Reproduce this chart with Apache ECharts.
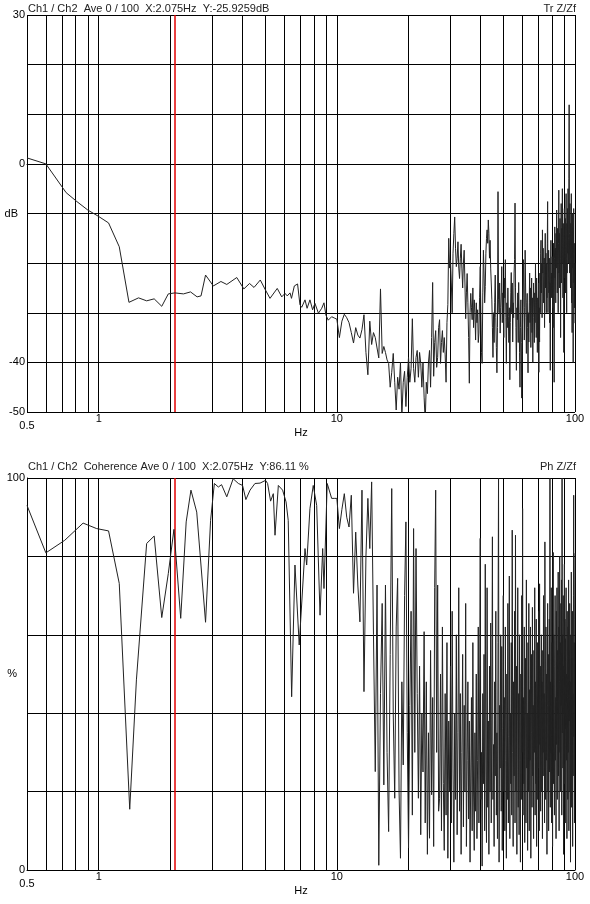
<!DOCTYPE html>
<html>
<head>
<meta charset="utf-8">
<script src="https://cdn.jsdelivr.net/npm/echarts@6/dist/echarts.min.js"></script>
<style>
html, body { margin: 0; padding: 0; background: #fff; }
#myChart { width: 590px; height: 904px; }
</style>
</head>
<body>
<div id="myChart"></div>
<script>
// 频率网格线 (Hz)
const gridHz = [0.6, 0.7, 0.8, 0.9, 1, 2, 3, 4, 5, 6, 7, 8, 9, 10, 20, 30, 40, 50, 60, 70, 80, 90, 100]
const cursorHz = 2.075

// 传递函数 Tr Z/Zf (dB) - 低频部分
const trLowHz = [0.5, 0.6, 0.73, 0.81, 0.9, 1.0, 1.1, 1.22, 1.34, 1.47, 1.59, 1.71, 1.84, 1.96, 2.09, 2.27, 2.43, 2.59, 2.69, 2.81,
    3.03, 3.26, 3.45, 3.8, 4.07, 4.3, 4.49, 4.77, 5.0, 5.24, 5.62, 5.87, 6.06, 6.19, 6.36, 6.45, 6.63, 6.84, 7.0, 7.12,
    7.35, 7.5, 7.71, 7.91, 8.09, 8.37, 8.64, 8.83, 9.0, 9.2, 9.51, 9.8]
const trLowDb = [1.2, 0, -5.8, -7.6, -9.3, -10.6, -11.9, -16.7, -27.9, -27.0, -27.6, -27.2, -28.7, -26.2, -26.0, -26.2, -25.8, -26.8, -26.6, -22.4,
    -24.6, -23.7, -24.3, -22.9, -25.2, -24.1, -24.9, -23.4, -25.3, -27.1, -25.1, -26.8, -26.1, -26.6, -26.0, -27.1, -24.6, -24.2, -28.4, -28.9,
    -27.4, -29.1, -27.4, -29.4, -28.1, -30.1, -29.1, -28.0, -30.5, -31.5, -30.8, -31.1]

// 10 Hz 以上: 0.25 Hz 一个点
const binStartHz = 10
const binStepHz = 0.25
const trDenseDb = [
    -31.3, -35, -31.7, -30.3,   -31, -32, -34, -36.1,   -33, -34.5, -35.1, -33.4,   -30.4, -38, -42.5, -31.7,
    -36.4, -34, -35, -37.1,     -39.1, -25.2, -38.2, -36.8,   -38, -39.5, -40.2, -45,   -42, -38.2, -44, -49.6,
    -43, -45.4, -40, -51,       -44, -41.8, -48.9, -43,   -39, -44, -41.2, -31.2,   -41.2, -44, -39, -37.6,
    -43, -38, -40.2, -45,       -40, -47, -52, -44,       -46.3, -40, -37.6, -45,   -35, -23.9, -42.8, -36,
    -33.6, -41, -39, -33,       -31.4, -40.2, -36, -33.6, -38, -35, -38.5, -44,     -32, -28.3, -15, -21,
    -19.4, -24, -30, -18,       -14, -10.7, -17, -20.7,   -19, -15.7, -21, -23.1,   -19, -16.2, -21, -25,
    -20, -17.4, -24, -31.2,     -26, -22.1, -28, -35,     -44.2, -30, -26.1, -29,   -31.4, -25, -33, -27.4,
    -30, -35.5, -28, -32,       -29.4, -36, -34.1, -27,   -20.7, -30, -38, -40.2,   -26, -17.4, -22, -28,
    -24.7, -18, -15, -13.3,     -16, -11.3, -14, -19,     -15.4, -21, -24, -27.4,   -33, -39, -30, -36,
    -28, -22.4, -31, -37,       -42.1, -33, -5.6, -27.4,  -30, -24, -34.1, -29,     -26, -20.7, -32, -26,
    -29.4, -35, -23, -27,       -19.3, -31, -40.2, -28,   -33, -25, -30.8, -36,     -29, -43.5, -32, -26,
    -21.9, -30, -24, -35.9,     -28, -31, -22, -19.3,     -7.9, -25, -33, -41.6,    -29, -31.4, -26, -36,
    -23.9, -30, -38, -45,       -33, -27.4, -36, -47.2,   -38, -30.8, -25, -19.3,   -27, -35.5, -29, -17.4,
    -24, -31, -38.2, -28,       -26.1, -33, -42.1, -30,   -35.9, -28, -22, -32,     -25, -37, -30, -23,
    -34, -27, -40, -31,         -24, -29, -36, -26,       -32, -20, -28, -35,       -23, -30, -38, -27,
    -33, -24, -42, -29,         -35.9, -22, -30, -18,     -15.4, -26, -20, -31,     -13.3, -22, -17, -28,
    -24.4, -19, -33, -21,       -14, -25, -18, -30,       -20, -27, -16, -7.6,      -30, -22, -17.4, -26,
    -19, -32, -24, -41.6,       -20, -15.4, -27, -22,     -26.8, -18.7, -29, -21,   -33, -16, -24, -44,
    -19, -12.7, -23, -17,       -28, -14, -21, -9.3,      -18, -26, -13, -20.7,     -30, -16, -5.3, -22,
    -14, -25, -11, -19,         -35, -17, -8, -24,        -13, -20, -5, -16,        -27, -12, -21, -38,
    -15, -9, -23, -17,          -11, -26, -14, -6,        -19, -30, -12, -22,       -9, -18, -5, -15,
    -20, -3, 11.9, -14,         -22, -8, -17, -25,        -12, -19, -6, -28,        -15, -34, -10, -21,
    -13, -40, -18, -9,          -24, -16, -29, -20,
    -32.1
]

// 相干 Coherence (%) - 低频部分
const cohLowHz = [0.5, 0.6, 0.72, 0.86, 0.98, 1.1, 1.22, 1.35, 1.44, 1.59, 1.71, 1.84, 1.96, 2.07, 2.21, 2.33, 2.44, 2.58, 2.81, 2.95,
    3.06, 3.18, 3.28, 3.45, 3.67, 3.86, 4.02, 4.15, 4.32, 4.53, 4.76, 5.02, 5.12, 5.27, 5.41, 5.5, 5.68, 5.92, 6.12, 6.25,
    6.46, 6.67, 6.95, 7.35, 7.47, 7.71, 7.96, 8.23, 8.5, 8.72, 8.83, 9.11, 9.51, 9.8]
const cohLowPct = [93, 80.9, 84.1, 88.5, 87.1, 86.5, 73.1, 15.5, 48.5, 83.3, 85.2, 64.4, 75.6, 86.9, 64.2, 88.8, 96.9, 91.3, 63.2, 89.2,
    98.6, 97.7, 98.3, 95.2, 99.8, 98.6, 98.1, 94.5, 96.9, 98.6, 98.7, 99.4, 98.6, 94.1, 96.0, 85.4, 98.1, 96.9, 93.9, 89.2,
    44.2, 77.8, 57.4, 82.0, 77.8, 92.2, 98.1, 93.0, 65.0, 82.0, 71.8, 98.6, 94.8, 94.8]

const cohDensePct = [
    94.8, 87.1, 92, 96,    90, 87.5, 95.6, 70.6,   86.2, 72.7, 63.3, 96.9,   45.5, 80, 94.8, 82,
    99, 60, 25.1, 72.7,    1.2, 45, 68, 21.7,      72.7, 30, 9.8, 55,        97.3, 40, 18.3, 62,
    74.4, 20, 3, 48,       26.8, 70, 88.8, 35,     5.6, 42, 66, 14,          87.1, 30, 82, 45,
    18.3, 52, 9, 40,       25, 60.8, 12, 48,       4, 35, 8.1, 56,           19.2, 44, 6, 72,
    96.9, 30, 72.7, 15,    18.3, 50, 10, 62,       22, 5, 45, 14,            58, 3, 38, 20,
    52, 12, 66, 25,        2, 40, 18, 60,          9, 35, 72, 15,            45, 4, 30, 55,
    11, 42, 20, 68,        6, 28, 48, 13,          38, 2, 25, 44,            10, 58, 20, 5,
    35, 15, 50, 8,         28, 62, 12, 40,         84.6, 18, 30, 1,          45, 22, 55, 10,
    78, 25, 7, 72,         16, 38, 4, 52,          20, 63, 12, 40,           85, 18, 32, 6,
    48, 24, 66, 14,        35, 8, 58, 100,         2, 42, 26, 60,            15, 57, 5, 36,
    70, 20, 44, 10,        62, 28, 3, 50,          18, 68, 12, 34,           75, 8, 40, 22,
    58, 14, 86.7, 30,      6, 48, 24, 66,          12, 85.4, 20, 52,         4, 38, 72, 16,
    45, 9, 60, 28,         2, 50, 18, 70,          30, 92.2, 14, 44,         22, 62, 7, 36,
    54, 12, 74, 26,        40, 5, 58, 20,          68, 10, 46, 28,           62, 3, 35, 55,
    16, 67, 24, 42,        8, 56, 30, 72,          14, 48, 22, 64,           6, 38, 58, 18,
    44, 26, 66, 10,        73, 32, 52, 15,         40, 60, 20, 48,           8, 56, 30, 70,
    24, 45, 12, 83.7,      35, 18, 62, 28,         50, 4, 42, 68,            20, 55, 10, 38,
    64, 25, 100, 16,       48, 30, 72, 12,         58, 34, 6, 46,            81, 22, 60, 36,
    14, 52, 70, 28,        44, 8, 66, 32,          72, 18, 56, 40,           76, 24, 62, 10,
    48, 80, 30, 58,        20, 68, 42, 74,         14, 100, 35, 60,          26, 70, 4, 52,
    40, 78, 22, 64,        12, 59, 36, 72,         28, 50, 8, 66,            44, 18, 62, 30,
    74, 10, 56, 38,        68, 20, 48, 2,          60, 32, 76, 16,           54, 40, 66, 6,
    45, 24, 70, 95.6,      34, 58, 12, 64,
    80.8
]

function pairs(hz, vals) {
    return hz.map((f, i) => [f, vals[i]])
}
function bins(vals) {
    return vals.map((v, i) => [+(binStartHz + binStepHz * i).toFixed(2), v])
}

const trData = pairs(trLowHz, trLowDb).concat(bins(trDenseDb))
const cohData = pairs(cohLowHz, cohLowPct).concat(bins(cohDensePct))

const font = "'Liberation Sans', Arial, sans-serif"

function xAxisOf(idx) {
    return {
        type: 'log',
        logBase: 10,
        gridIndex: idx,
        min: 0.5,
        max: 100,
        name: 'Hz',
        nameLocation: 'middle',
        nameGap: 15,
        nameMoveOverlap: false,
        nameTextStyle: { color: '#000', fontSize: 11, fontFamily: font },
        axisLine: { show: true, lineStyle: { color: '#000', width: 1 } },
        axisTick: { show: false },
        splitLine: { show: false },
        axisLabel: {
            margin: 1,
            showMinLabel: true,
            showMaxLabel: true,
            color: '#000',
            fontSize: 11,
            fontFamily: font,
            formatter: v => Math.abs(v - 0.5) < 1e-6 ? '{low|0.5}' : String(v),
            rich: { low: { padding: [7, 0, 0, 0], fontSize: 11, fontFamily: font, color: '#000' } }
        }
    }
}

function gridMarks() {
    return {
        silent: true,
        symbol: ['none', 'none'],
        label: { show: false },
        lineStyle: { color: '#000', width: 1, type: 'solid' },
        emphasis: { disabled: true },
        data: gridHz.map(f => ({ xAxis: f })).concat([
            { xAxis: cursorHz, lineStyle: { color: '#e00000', width: 1.5, type: 'solid' } }
        ])
    }
}

let myChart = echarts.init(document.getElementById('myChart'))
let option = {
    animation: false,
    backgroundColor: '#fff',
    textStyle: { fontFamily: font },
    title: [
        {
            text: 'Ch1 / Ch2  Ave 0 / 100  X:2.075Hz  Y:-25.9259dB',
            left: 27, top: 2, padding: [1, 3, 1, 1], backgroundColor: '#fff',
            textStyle: { fontSize: 11, fontWeight: 'normal', color: '#222', fontFamily: font }
        },
        {
            text: 'Tr Z/Zf',
            right: 13, top: 2, padding: [1, 1, 1, 3], backgroundColor: '#fff',
            textStyle: { fontSize: 11, fontWeight: 'normal', color: '#222', fontFamily: font }
        },
        {
            text: 'Ch1 / Ch2  Coherence Ave 0 / 100  X:2.075Hz  Y:86.11 %',
            left: 27, top: 460, padding: [1, 3, 1, 1], backgroundColor: '#fff',
            textStyle: { fontSize: 11, fontWeight: 'normal', color: '#222', fontFamily: font }
        },
        {
            text: 'Ph Z/Zf',
            right: 13, top: 460, padding: [1, 1, 1, 3], backgroundColor: '#fff',
            textStyle: { fontSize: 11, fontWeight: 'normal', color: '#222', fontFamily: font }
        }
    ],
    grid: [
        { left: 27, right: 15, top: 15, height: 397, containLabel: false, outerBoundsMode: 'none' },
        { left: 27, right: 15, top: 478, height: 392, containLabel: false, outerBoundsMode: 'none' }
    ],
    xAxis: [xAxisOf(0), xAxisOf(1)],
    yAxis: [
        {
            type: 'value',
            gridIndex: 0,
            min: -50,
            max: 30,
            interval: 10,
            name: 'dB',
            nameLocation: 'middle',
            nameRotate: 0,
            nameGap: 9,
            nameMoveOverlap: false,
            nameTextStyle: { color: '#000', fontSize: 11, fontFamily: font },
            axisLine: { show: true, lineStyle: { color: '#000', width: 1 } },
            axisTick: { show: false },
            splitLine: { show: true, lineStyle: { color: '#000', width: 1 } },
            axisLabel: {
                margin: 2, color: '#000', fontSize: 11, fontFamily: font,
                formatter: v => [30, 0, -40, -50].includes(v) ? String(v) : ''
            }
        },
        {
            type: 'value',
            gridIndex: 1,
            min: 0,
            max: 100,
            interval: 20,
            name: '%',
            nameLocation: 'middle',
            nameRotate: 0,
            nameGap: 10,
            nameMoveOverlap: false,
            nameTextStyle: { color: '#000', fontSize: 11, fontFamily: font },
            axisLine: { show: true, lineStyle: { color: '#000', width: 1 } },
            axisTick: { show: false },
            splitLine: { show: true, lineStyle: { color: '#000', width: 1 } },
            axisLabel: {
                margin: 2, color: '#000', fontSize: 11, fontFamily: font,
                formatter: v => (v === 0 || v === 100) ? String(v) : ''
            }
        }
    ],
    series: [
        {
            name: 'Tr Z/Zf',
            type: 'line',
            xAxisIndex: 0,
            yAxisIndex: 0,
            data: trData,
            symbol: 'none',
            z: 8,
            lineStyle: { color: '#222', width: 1 },
            markLine: gridMarks()
        },
        {
            name: 'Coherence',
            type: 'line',
            xAxisIndex: 1,
            yAxisIndex: 1,
            data: cohData,
            symbol: 'none',
            z: 8,
            lineStyle: { color: '#222', width: 1 },
            markLine: gridMarks()
        }
    ]
}
myChart.setOption(option)

window.addEventListener('resize', () => {
    myChart.resize()
})
</script>
</body>
</html>
